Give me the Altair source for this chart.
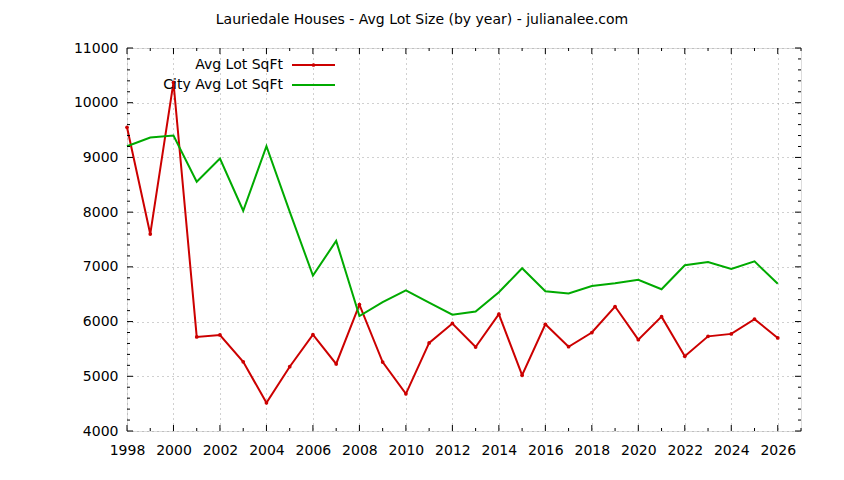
import altair as alt
import pandas as pd

years = list(range(1998, 2027))
avg_lot = [9550, 7600, 10370, 5720, 5755, 5265, 4515, 5175, 5760, 5225,
           6310, 5260, 4680, 5610, 5965, 5535, 6135, 5020, 5950, 5540,
           5800, 6275, 5670, 6090, 5365, 5730, 5775, 6045, 5700]
city_lot = [9205, 9365, 9400, 8555, 8980, 8025, 9205, 8010, 6840, 7475,
            6100, 6355, 6570, 6345, 6125, 6185, 6535, 6975, 6555, 6515,
            6650, 6700, 6765, 6590, 7030, 7090, 6960, 7100, 6690]
series_names = ["Avg Lot SqFt", "City Avg Lot SqFt"]
series_colors = ["#cc0000", "#00aa00"]
x_domain = [1998, 2027]
y_domain = [4000, 11000]
y_major = list(range(4000, 11001, 1000))
y_minor = [v for v in range(4000, 11001, 200) if v % 1000 != 0]
x_major = [y for y in range(1998, 2028) if y % 2 == 0]
x_minor = [y for y in range(1998, 2028) if y % 2 == 1]

FONT = "DejaVu Sans"
FS = 14
W, H = 674, 383

df = pd.DataFrame({"year": years, "avg": avg_lot, "city": city_lot})

xs = alt.Scale(domain=x_domain, nice=False, zero=False)
ys = alt.Scale(domain=y_domain, nice=False, zero=False)

base = alt.Chart(df)

x_enc = alt.X("year:Q", scale=xs, title=None,
              axis=alt.Axis(values=list(range(1998, 2028)), format="d",
                            labelExpr="datum.value % 2 == 0 && datum.value <= 2026 ? datum.label : ''",
                            ticks=False, domain=False, grid=True,
                            gridColor="#a0a0a0", gridDash=[1, 4], gridWidth=1,
                            labelFont=FONT, labelFontSize=FS, labelColor="#000000",
                            labelPadding=12, labelFlush=False))
y_enc = alt.Y("avg:Q", scale=ys, title=None,
              axis=alt.Axis(values=y_major, format="d",
                            ticks=False, domain=False, grid=True,
                            gridColor="#a0a0a0", gridDash=[1, 4], gridWidth=1,
                            labelFont=FONT, labelFontSize=FS, labelColor="#000000",
                            labelPadding=9))

red = base.mark_line(color=series_colors[0], strokeWidth=2,
                     point=alt.OverlayMarkDef(color=series_colors[0], size=14, filled=True)).encode(
    x=x_enc, y=y_enc)
green = base.mark_line(color=series_colors[1], strokeWidth=2).encode(
    x=alt.X("year:Q", scale=xs), y=alt.Y("city:Q", scale=ys))

# inward ticks
ymaj_df = pd.DataFrame({"v": y_major})
ymin_df = pd.DataFrame({"v": y_minor})
xmaj_df = pd.DataFrame({"v": x_major})
xmin_df = pd.DataFrame({"v": x_minor})

def yticks(d, length):
    left = alt.Chart(d).mark_rule(color="black", strokeWidth=1).encode(
        y=alt.Y("v:Q", scale=ys), x=alt.value(0), x2=alt.value(length))
    right = alt.Chart(d).mark_rule(color="black", strokeWidth=1).encode(
        y=alt.Y("v:Q", scale=ys), x=alt.value(W - length), x2=alt.value(W))
    return left + right

def xticks(d, length):
    bot = alt.Chart(d).mark_rule(color="black", strokeWidth=1).encode(
        x=alt.X("v:Q", scale=xs), y=alt.value(H - length), y2=alt.value(H))
    top = alt.Chart(d).mark_rule(color="black", strokeWidth=1).encode(
        x=alt.X("v:Q", scale=xs), y=alt.value(0), y2=alt.value(length))
    return bot + top

# manual legend (label left of sample, gnuplot style)
leg_rows = [17, 37]
leg_layers = []
for i, (name, col) in enumerate(zip(series_names, series_colors)):
    d = pd.DataFrame({"name": [name]})
    c = alt.Chart(d)
    leg_layers.append(c.mark_text(align="right", baseline="middle", font=FONT,
                                  fontSize=FS, color="black").encode(
        text="name:N", x=alt.value(156), y=alt.value(leg_rows[i])))
    leg_layers.append(c.mark_rule(strokeWidth=2, color=col).encode(
        x=alt.value(165), x2=alt.value(208), y=alt.value(leg_rows[i])))
    if i == 0:
        leg_layers.append(c.mark_point(filled=True, size=14, opacity=1, color=col).encode(
            x=alt.value(186.5), y=alt.value(leg_rows[i])))

chart = alt.layer(
    red, green,
    yticks(ymaj_df, 6), yticks(ymin_df, 3), xticks(xmaj_df, 6), xticks(xmin_df, 3),
    *leg_layers,
).properties(
    width=W, height=H,
    title=alt.TitleParams("Lauriedale Houses - Avg Lot Size (by year) - julianalee.com",
                          font=FONT, fontSize=FS, fontWeight="normal", color="black",
                          anchor="middle", dx=-42, offset=14),
    autosize=alt.AutoSizeParams(type="none"),
    padding={"left": 119, "top": 40, "right": 30, "bottom": 40},
).configure_view(stroke="black", strokeWidth=1.5).configure(background="white")

chart.save("out.html", embed_options={"renderer": "svg", "actions": False})
